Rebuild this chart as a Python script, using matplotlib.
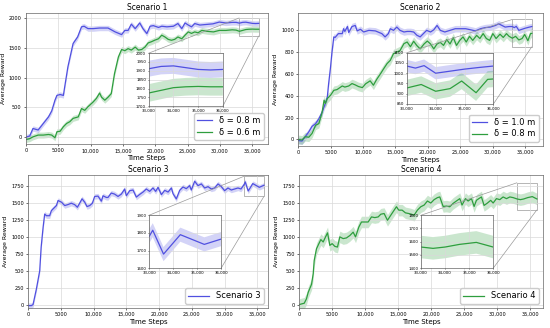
import matplotlib
matplotlib.use("Agg")
import matplotlib.pyplot as plt
import numpy as np
from matplotlib.ticker import FuncFormatter, MultipleLocator
from mpl_toolkits.axes_grid1.inset_locator import mark_inset

BLUE = "#5050e0"
GREEN = "#2e9e3e"

# ---- scenario 1
s1_x_a = [0, 600, 1100, 1900, 2700, 3500, 4000, 4500, 4800, 5300, 5800, 6000, 6500, 7300, 8000,
          8600, 9000, 9600, 10400, 11400, 12700, 13800, 14800, 15300, 15800, 16300, 16900, 17600,
          18100, 18700, 19200, 19700, 20500, 21000, 21800, 22800, 23500, 24100, 24600, 25100,
          25600, 26100, 26900, 27900, 28900, 29900, 30900, 31900, 32500, 33000, 33500, 34000,
          34500, 35000, 35500, 36000]
s1_y_a = [0, 20, 145, 120, 230, 340, 440, 620, 700, 715, 700, 840, 1180, 1570, 1680,
          1850, 1860, 1820, 1820, 1830, 1830, 1765, 1720, 1790, 1790, 1895, 1820, 1915,
          1820, 1737, 1860, 1870, 1840, 1860, 1850, 1860, 1905, 1820, 1915, 1880,
          1850, 1905, 1880, 1890, 1900, 1930, 1915, 1925, 1925, 1912, 1925, 1928,
          1918, 1908, 1905, 1908]
s1_x_b = [0, 600, 1100, 1900, 2700, 3500, 4000, 4500, 4800, 5300, 5800, 6300, 6800, 7300, 8100,
          8600, 9100, 9600, 10400, 10900, 11400, 11700, 12200, 12700, 13200, 13700, 14300, 14800,
          15300, 15800, 16300, 16900, 17400, 17900, 18400, 18900, 19400, 19900, 20500, 21000,
          21500, 22000, 22500, 23000, 23500, 24100, 24600, 25100, 25600, 26100, 26600, 27200,
          28000, 29000, 29900, 30900, 31900, 32500, 33000, 33500, 34000, 34500, 35000, 35500, 36000]
s1_y_b = [-40, -25, 5, 35, 35, 45, 35, -10, 90, 100, 175, 230, 260, 315, 340,
          480, 450, 510, 590, 650, 740, 670, 620, 670, 730, 1065, 1345, 1470,
          1450, 1485, 1460, 1510, 1460, 1470, 1510, 1580, 1600, 1625, 1650, 1710,
          1680, 1640, 1625, 1640, 1680, 1650, 1710, 1765, 1740, 1765, 1750, 1790,
          1775, 1765, 1790, 1790, 1800, 1795, 1775, 1790, 1805, 1810, 1812, 1810, 1810]

# ---- scenario 2
s2_x_a = [0, 600, 1100, 1650, 2150, 2700, 3200, 3700, 4200, 4500, 4700, 5000, 5200, 5500, 5700,
          6200, 6800, 7000, 7200, 7600, 7800, 8300, 8800, 9100, 9600, 10100, 10900, 11900, 12900,
          13400, 13900, 14200, 14700, 15200, 15700, 16300, 16800, 17300, 17800, 18300, 18800,
          19300, 19800, 20400, 20900, 21400, 21900, 22600, 23400, 24200, 24900, 25800, 26600,
          27300, 28100, 28800, 29600, 30400, 30900, 31400, 31900, 32500, 33000, 33300, 33600,
          34000, 34500, 35000, 35500, 36000]
s2_y_a = [-10, -15, 25, 70, 120, 145, 190, 250, 330, 390, 510, 665, 790, 940, 935,
          970, 970, 1015, 990, 1035, 980, 1035, 1045, 995, 1010, 985, 1000, 995, 970,
          940, 970, 1015, 1000, 1030, 1000, 985, 990, 990, 985, 955, 940,
          970, 1000, 985, 1005, 1045, 1000, 985, 1000, 1015, 1015, 1015, 1005,
          995, 1015, 1025, 1030, 1045, 1060, 1045, 1030, 1035, 1035, 1025, 1037,
          1000, 1010, 1020, 1028, 1035]
s2_x_b = [0, 600, 1100, 1650, 2150, 2700, 3200, 3700, 4000, 4200, 4500, 5000, 5500, 6000, 6800,
          7200, 7800, 8300, 8800, 9300, 9900, 10400, 11100, 11600, 12100, 12700, 13200, 13700,
          14200, 14700, 15200, 15700, 16300, 16800, 17300, 17800, 18300, 18800, 19400, 19900,
          20400, 20900, 21400, 21900, 22400, 22900, 23400, 23900, 24400, 24900, 25400, 25900,
          26400, 26900, 27500, 28000, 28500, 29000, 29500, 30000, 30500, 31100, 31600, 32100,
          32500, 33000, 33500, 34000, 34500, 34900, 35400, 35800, 36000]
s2_y_b = [0, -5, 25, 20, 55, 130, 145, 250, 360, 330, 375, 405, 450, 457, 490,
          480, 490, 512, 500, 485, 475, 510, 537, 497, 550, 603, 650, 695,
          725, 787, 800, 815, 878, 893, 850, 900, 860, 830, 875, 902,
          875, 830, 875, 890, 862, 915, 875, 933, 862, 908, 940, 893,
          945, 908, 954, 925, 970, 925, 908, 970, 925, 965, 935, 970,
          945, 928, 945, 912, 925, 962, 905, 970, 972]

# ---- scenario 3
s3_x = [0, 500, 760, 1270, 1780, 2000, 2300, 2540, 2800, 3300, 3560, 4070, 4330, 4580, 5100,
        5600, 6100, 6600, 7100, 7530, 7880, 8240, 8650, 9000, 9410, 9820, 10170, 10680, 11190,
        11440, 11950, 12200, 12700, 13200, 13730, 14240, 14750, 15000, 15510, 16020, 16530,
        17040, 17550, 18050, 18560, 19070, 19480, 19840, 20350, 20860, 21370, 21880, 22130,
        22630, 23140, 23650, 24150, 24660, 24920, 25430, 25940, 26450, 26960, 27470, 27970,
        28480, 28990, 29500, 30000, 30510, 31020, 31530, 32040, 32500, 33000, 33150, 33600,
        34300, 35300, 36000]
s3_y = [-15, -15, 0, 230, 500, 850, 1145, 1340, 1315, 1315, 1390, 1440, 1465, 1540, 1515,
        1465, 1480, 1500, 1480, 1440, 1500, 1565, 1515, 1450, 1465, 1500, 1600, 1605, 1530,
        1610, 1585, 1585, 1650, 1635, 1600, 1635, 1710, 1610, 1685, 1695, 1590,
        1630, 1665, 1710, 1675, 1725, 1675, 1735, 1627, 1690, 1665, 1725, 1640,
        1563, 1690, 1740, 1715, 1760, 1695, 1825, 1760, 1785, 1725, 1745, 1710,
        1725, 1785, 1745, 1685, 1725, 1695, 1710, 1725, 1710, 1780, 1815, 1680,
        1790, 1735, 1765]

# ---- scenario 4
s4_x = [0, 350, 760, 1100, 1360, 1870, 2120, 2270, 2620, 2980, 3280, 3630, 3990, 4290, 4640,
        4990, 5400, 5800, 6150, 6660, 7160, 7670, 8170, 8530, 9030, 9430, 9940, 10440, 10950,
        11450, 11960, 12360, 12860, 13370, 13870, 14380, 14730, 15080, 15590, 16090, 16600,
        17000, 17400, 17900, 18410, 18920, 19420, 19930, 20430, 20940, 21290, 21800, 22300,
        22800, 23310, 23810, 24320, 24660, 25180, 25580, 26090, 26490, 26840, 27200, 27600,
        28000, 28510, 29000, 29370, 29870, 30380, 30880, 31390, 31900, 32400, 33000, 33500,
        34000, 34600, 35300, 36000]
s4_y = [0, 10, 20, 85, 180, 300, 455, 650, 825, 900, 960, 925, 1000, 1060, 875,
        900, 860, 850, 1000, 975, 985, 1020, 1070, 1000, 1145, 1220, 1220, 1220, 1295,
        1285, 1295, 1335, 1345, 1245, 1320, 1395, 1445, 1395, 1395, 1355, 1345,
        1335, 1320, 1395, 1445, 1470, 1530, 1500, 1550, 1580, 1590, 1450, 1455,
        1445, 1495, 1530, 1565, 1470, 1565, 1530, 1565, 1450, 1540, 1565, 1590,
        1465, 1500, 1540, 1500, 1565, 1550, 1590, 1565, 1590, 1580, 1560, 1550,
        1560, 1580, 1595, 1560]

fig = plt.figure(figsize=(5.5, 3.28), dpi=100)


def xfmt(v, pos):
    v = int(round(v))
    return f"{v:,}" if v >= 10000 else str(v)


def style(ax, fs=3.6):
    ax.grid(True, color="0.85", lw=0.5)
    ax.tick_params(labelsize=fs, length=1.5, width=0.4, pad=1.5)
    for s in ax.spines.values():
        s.set_color("0.4")
        s.set_linewidth(0.5)


def band(ax, x, y, sd, c):
    x = np.asarray(x)
    y = np.asarray(y)
    ax.plot(x, y, color=c, lw=0.9)
    ax.fill_between(x, y - sd, y + sd, color=c, alpha=0.25, lw=0)


panels = [
    dict(rect=[0.047, 0.56, 0.44, 0.40], title="Scenario 1", xmax=37400, ylim=(-120, 2080), ystep=500,
         series=[(s1_x_a, s1_y_a, 45, BLUE, "δ = 0.8 m"), (s1_x_b, s1_y_b, 50, GREEN, "δ = 0.6 m")],
         ins=[0.508, 0.29, 0.306, 0.405], iylim=(1700, 2000), iystep=50),
    dict(rect=[0.542, 0.555, 0.445, 0.405], title="Scenario 2", xmax=37700, ylim=(-60, 1158), ystep=200,
         series=[(s2_x_a, s2_y_a, 30, BLUE, "δ = 1.0 m"), (s2_x_b, s2_y_b, 40, GREEN, "δ = 0.8 m")],
         ins=[0.444, 0.316, 0.354, 0.386], iylim=(850, 1100), iystep=50),
    dict(rect=[0.051, 0.061, 0.436, 0.404], title="Scenario 3", xmax=36600, ylim=(-50, 1910), ystep=250,
         series=[(s3_x, s3_y, 40, BLUE, "Scenario 3")],
         ins=[0.505, 0.30, 0.30, 0.40], iylim=(1600, 1900), iystep=100),
    dict(rect=[0.544, 0.061, 0.443, 0.404], title="Scenario 4", xmax=36900, ylim=(-50, 1907), ystep=250,
         series=[(s4_x, s4_y, 85, GREEN, "Scenario 4")],
         ins=[0.50, 0.30, 0.296, 0.40], iylim=(1400, 1800), iystep=100),
]

for p in panels:
    ax = fig.add_axes(p["rect"])
    for x, y, sd, c, lab in p["series"]:
        band(ax, x, y, sd, c)
        ax.plot([], [], color=c, lw=0.9, label=lab)
    ax.set_xlim(0, p["xmax"])
    ax.set_ylim(*p["ylim"])
    ax.xaxis.set_major_locator(MultipleLocator(5000))
    ax.xaxis.set_major_formatter(FuncFormatter(xfmt))
    ax.yaxis.set_major_locator(MultipleLocator(p["ystep"]))
    style(ax)
    ax.set_title(p["title"], fontsize=5.5, pad=2.5)
    ax.set_xlabel("Time Steps", fontsize=5, labelpad=1)
    ax.set_ylabel("Average Reward", fontsize=4.5, labelpad=2)
    hl = 2.5 if len(p["series"]) == 1 else 1.8
    ax.legend(loc="lower right", fontsize=6, handlelength=hl, framealpha=1,
              edgecolor="0.8", borderpad=0.4, labelspacing=0.3)

    axins = ax.inset_axes(p["ins"])
    for x, y, sd, c, lab in p["series"]:
        band(axins, x, y, sd, c)
    axins.set_xlim(33000, 36000)
    axins.set_ylim(*p["iylim"])
    axins.xaxis.set_major_locator(MultipleLocator(1000))
    axins.xaxis.set_major_formatter(FuncFormatter(xfmt))
    axins.yaxis.set_major_locator(MultipleLocator(p["iystep"]))
    style(axins, fs=2.8)
    axins.tick_params(length=1, pad=1)
    mark_inset(ax, axins, loc1=2, loc2=4, fc="none", ec="0.6", lw=0.5)

fig.savefig("out.png", dpi=100)
